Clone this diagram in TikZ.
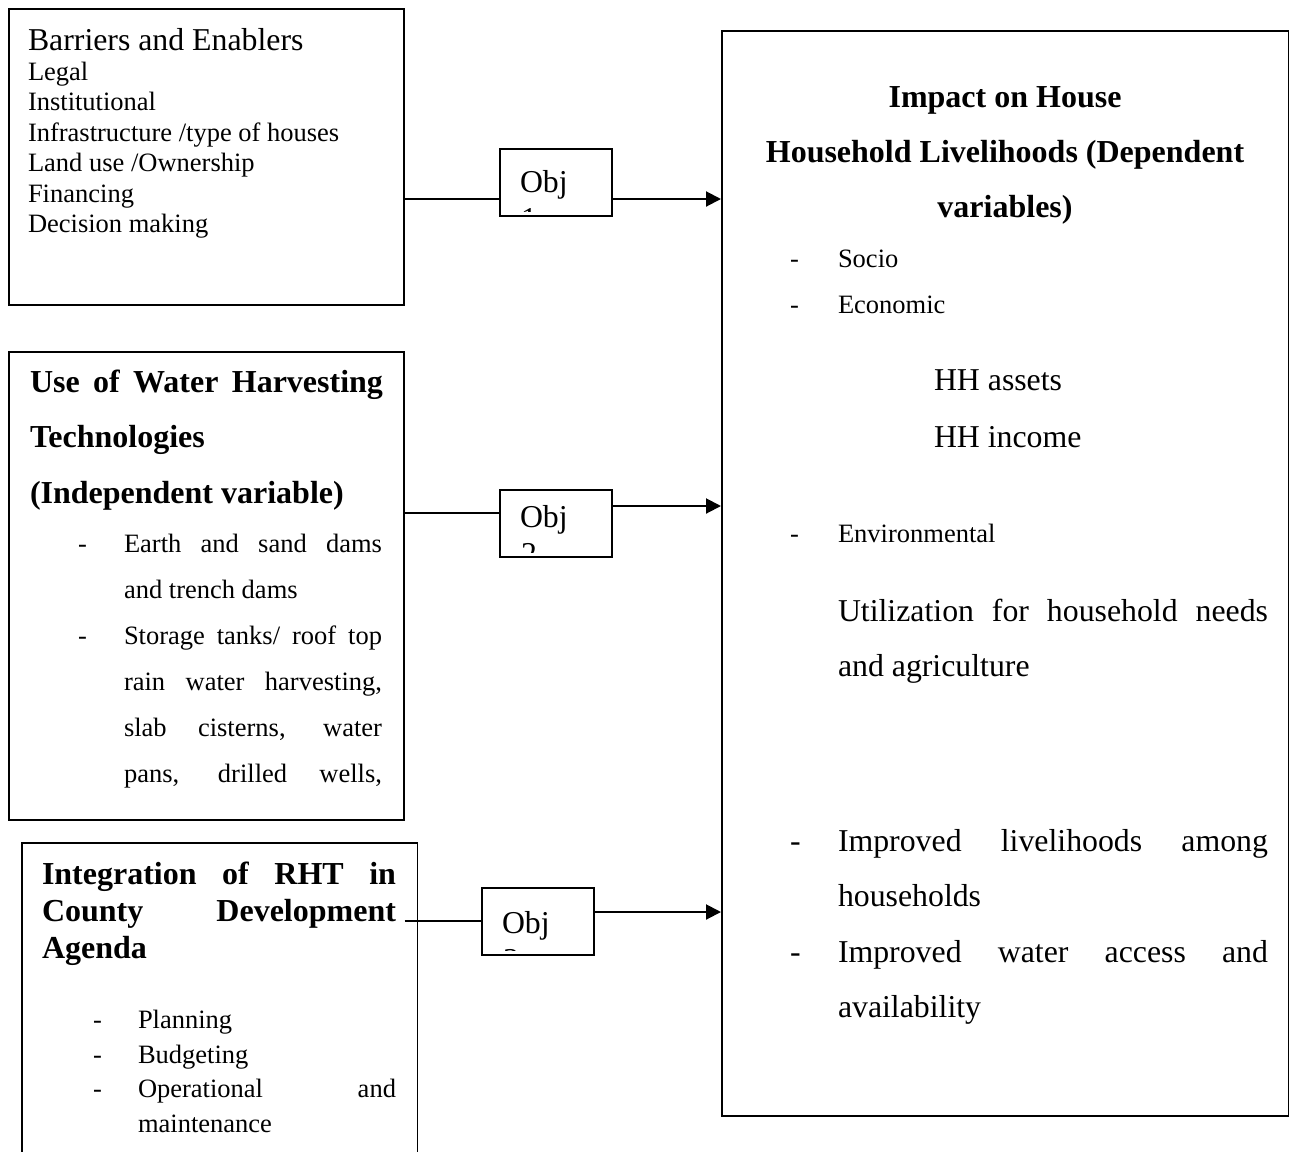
\documentclass[tikz,border=0pt]{standalone}
\usepackage{fontspec}
\setmainfont{Liberation Serif}
\usetikzlibrary{arrows.meta}
\newcommand{\fsm}{\fontsize{26.5}{30}\selectfont}
\newcommand{\fbg}{\fontsize{31.8}{36}\selectfont}
\newcommand{\fbd}{\fontsize{32}{36}\selectfont\bfseries}
\begin{document}
\begin{tikzpicture}[x=1pt,y=-1pt,
  box/.style={draw,line width=1.6pt,anchor=north west,inner sep=0pt},
  txt/.style={anchor=base west,inner sep=0pt,outer sep=0pt},
  ctxt/.style={anchor=base,inner sep=0pt,outer sep=0pt},
  conn/.style={line width=2pt},
  arr/.style={line width=2pt,-{Triangle[length=15pt,width=15pt]}}]
\useasboundingbox[fill=white] (0,0) rectangle (1289,1151);

% boxes
\node[box,minimum width=395pt,minimum height=296pt] (b1) at (8,8) {};
\node[box,minimum width=395pt,minimum height=468pt] (b2) at (8,351) {};
\node[box,draw=none,minimum width=394pt,minimum height=330pt] (b3) at (22,843) {};
\draw[line width=1.6pt] (b3.south west) -- (b3.north west) -- (b3.north east) -- (b3.south east);
\node[box,minimum width=567pt,minimum height=1085pt] (rb) at (721,30) {};
\node[box,minimum width=112pt,minimum height=67pt] (o1) at (499,148) {};
\node[box,minimum width=112pt,minimum height=67pt] (o2) at (499,489) {};
\node[box,minimum width=112pt,minimum height=67pt] (o3) at (481,887) {};

% Obj labels (second line clipped by the box, as in the reference)
\begin{scope}
\clip (o1.north west) rectangle ([yshift=5pt]o1.south east);
\node[txt] (o1t) at (520,192) {\fbg Obj};
\node[txt] (o1n) at (521,229) {\fbg 1};
\end{scope}
\begin{scope}
\clip (o2.north west) rectangle ([yshift=5pt]o2.south east);
\node[txt] (o2t) at (520,527) {\fbg Obj};
\node[txt] (o2n) at (521,564) {\fbg 2};
\end{scope}
\begin{scope}
\clip (o3.north west) rectangle ([yshift=5pt]o3.south east);
\node[txt] (o3t) at (502,933) {\fbg Obj};
\node[txt] (o3n) at (503,970) {\fbg 3};
\end{scope}

% box 1 text
\node[txt] (t1a) at (28,50) {\fbg Barriers and Enablers};
\node[txt] (t1b) at (28,80) {\fsm Legal};
\node[txt] (t1c) at (28,110.5) {\fsm Institutional};
\node[txt] (t1d) at (28,141) {\fsm Infrastructure /type of houses};
\node[txt] (t1e) at (28,171.5) {\fsm Land use /Ownership};
\node[txt] (t1f) at (28,202) {\fsm Financing};
\node[txt] (t1g) at (28,232) {\fsm Decision making};

% box 2 text
\node[txt] (t2a) at (30,392) {\fbd\makebox[353pt][s]{Use of Water Harvesting}};
\node[txt] (t2b) at (30,447) {\fbd Technologies};
\node[txt] (t2c) at (30,503) {\fbd (Independent variable)};
\node[txt] (d2a) at (78,552) {\fsm -};
\node[txt] (t2d) at (124,552) {\fsm\makebox[258pt][s]{Earth and sand dams}};
\node[txt] (t2e) at (124,598) {\fsm and trench dams};
\node[txt] (d2b) at (78,644) {\fsm -};
\node[txt] (t2f) at (124,644) {\fsm\makebox[258pt][s]{Storage tanks/ roof top}};
\node[txt] (t2g) at (124,690) {\fsm\makebox[258pt][s]{rain water harvesting,}};
\node[txt] (t2h) at (124,736) {\fsm\makebox[258pt][s]{slab cisterns, water}};
\node[txt] (t2i) at (124,782) {\fsm\makebox[258pt][s]{pans, drilled wells,}};

% box 3 text
\node[txt] (t3a) at (42,884) {\fbd\makebox[354pt][s]{Integration of RHT in}};
\node[txt] (t3b) at (42,921) {\fbd\makebox[354pt][s]{County Development}};
\node[txt] (t3c) at (42,958) {\fbd Agenda};
\node[txt] (d3a) at (93,1028) {\fsm -};
\node[txt] (t3d) at (138,1028) {\fsm Planning};
\node[txt] (d3b) at (93,1063) {\fsm -};
\node[txt] (t3e) at (138,1063) {\fsm Budgeting};
\node[txt] (d3c) at (93,1097) {\fsm -};
\node[txt] (t3f) at (138,1097) {\fsm\makebox[258pt][s]{Operational and}};
\node[txt] (t3g) at (138,1132) {\fsm maintenance};

% right box text
\node[ctxt] (r1) at (1005,107) {\fbd Impact on House};
\node[ctxt] (r2) at (1005,162) {\fbd Household Livelihoods (Dependent};
\node[ctxt] (r3) at (1005,217) {\fbd variables)};
\node[txt] (rd1) at (790,267) {\fsm -};
\node[txt] (r4) at (838,267) {\fsm Socio};
\node[txt] (rd2) at (790,313) {\fsm -};
\node[txt] (r5) at (838,313) {\fsm Economic};
\node[txt] (r6) at (934,390) {\fbg HH assets};
\node[txt] (r7) at (934,447) {\fbg HH income};
\node[txt] (rd3) at (790,542) {\fsm -};
\node[txt] (r8) at (838,542) {\fsm Environmental};
\node[txt] (r9) at (838,621) {\fbg\makebox[430pt][s]{Utilization for household needs}};
\node[txt] (r10) at (838,676) {\fbg and agriculture};
\node[txt] (rd4) at (790,851) {\fbg -};
\node[txt] (r11) at (838,851) {\fbg\makebox[430pt][s]{Improved livelihoods among}};
\node[txt] (r12) at (838,906) {\fbg households};
\node[txt] (rd5) at (790,962) {\fbg -};
\node[txt] (r13) at (838,962) {\fbg\makebox[430pt][s]{Improved water access and}};
\node[txt] (r14) at (838,1017) {\fbg availability};

% connector levels
\coordinate (y1l) at (0,199);
\coordinate (y1r) at (0,199);
\coordinate (y2l) at (0,513);
\coordinate (y2r) at (0,506);
\coordinate (y3l) at (0,921);
\coordinate (y3r) at (0,912);

\draw[conn] (b1.east |- y1l) -- (o1.west |- y1l);
\draw[arr] (o1.east |- y1r) -- (rb.west |- y1r);
\draw[conn] (b2.east |- y2l) -- (o2.west |- y2l);
\draw[arr] (o2.east |- y2r) -- (rb.west |- y2r);
\draw[conn] ([xshift=-13pt]b3.east |- y3l) -- (o3.west |- y3l);
\draw[arr] (o3.east |- y3r) -- (rb.west |- y3r);
\end{tikzpicture}
\end{document}
